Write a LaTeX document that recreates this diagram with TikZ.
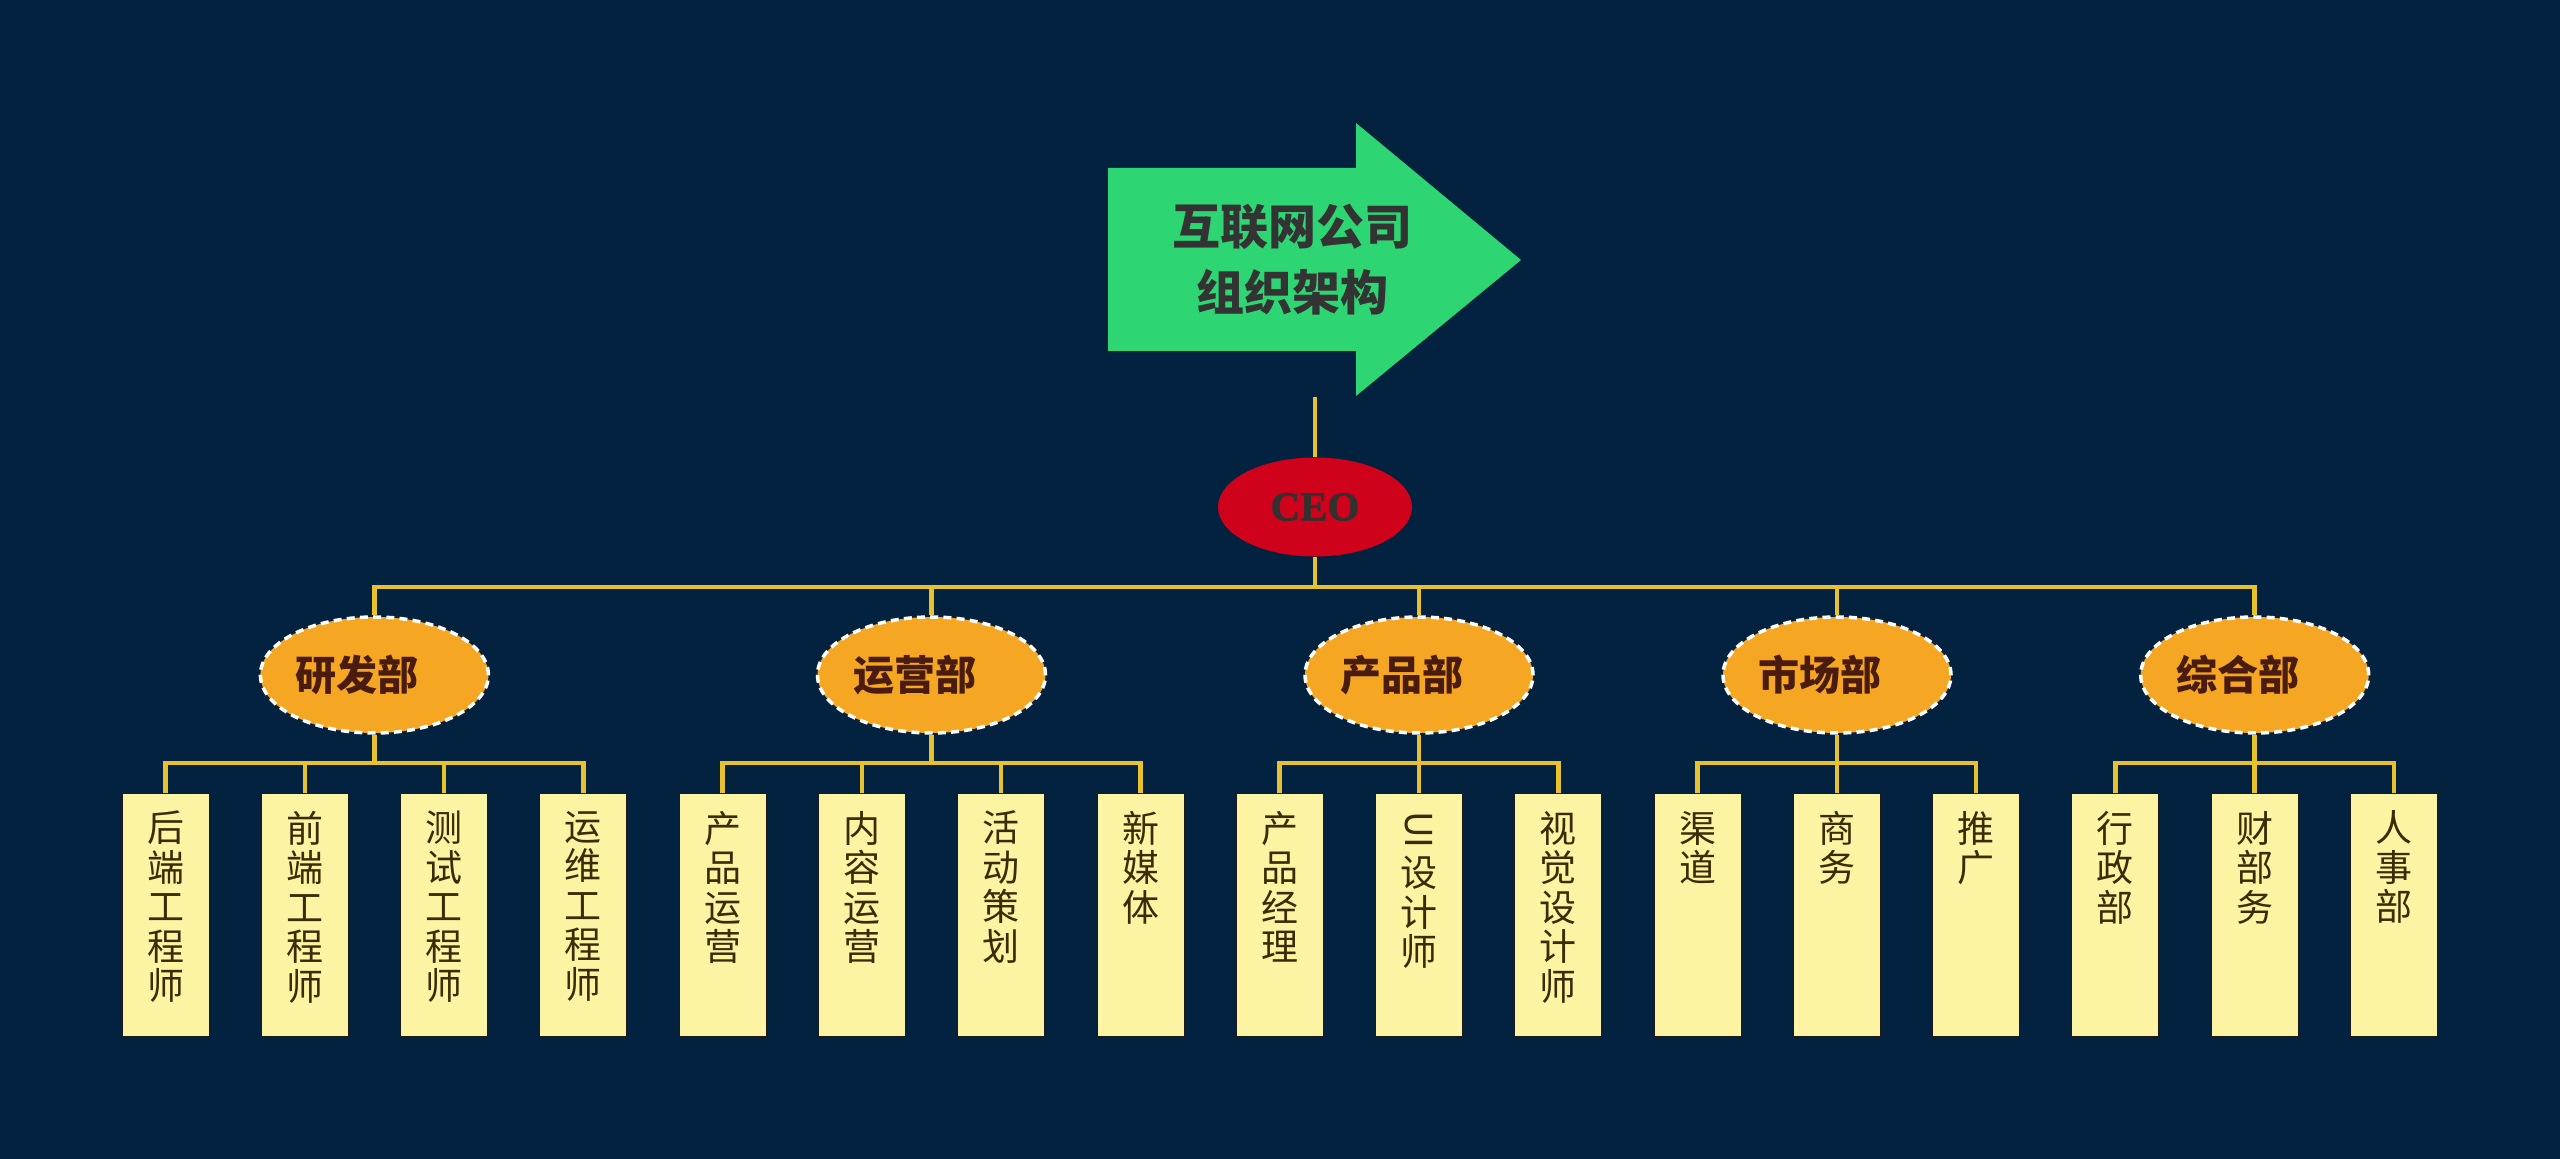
\documentclass[tikz,border=0pt]{standalone}
\usepackage{fontspec}
\usepackage{graphicx}
\newfontfamily\cjkfont{Noto Sans CJK SC}
\newfontfamily\ceofont[FakeBold=1.5]{Liberation Serif Bold}
\usetikzlibrary{shapes.geometric}
\definecolor{bgc}{HTML}{022240}
\definecolor{arrowg}{HTML}{2ED573}
\definecolor{titlet}{HTML}{333333}
\definecolor{ceor}{HTML}{D0021B}
\definecolor{ceot}{HTML}{333030}
\definecolor{liney}{HTML}{E8C22C}
\definecolor{depto}{HTML}{F5A623}
\definecolor{deptt}{HTML}{4A1C10}
\definecolor{leafy}{HTML}{FCF4A3}
\definecolor{leaft}{HTML}{3A2C05}
\definecolor{leafb}{HTML}{1A1A1A}
\newcommand\vtxt[1]{\parbox[c][104pt][t]{36pt}{\centering #1}}
\newcommand\dtxt[1]{#1\kern17pt\relax}
\tikzset{
  conn/.style={draw=liney, line width=2.25pt},
  titlenode/.style={align=center, text=titlet, inner sep=0pt,
    font=\cjkfont\bfseries\fontsize{24}{33}\selectfont},
  ceonode/.style={ellipse, fill=ceor, minimum width=97pt, minimum height=49.5pt,
    inner sep=0pt, text=ceot, font=\ceofont\fontsize{20.5}{24}\selectfont},
  dept/.style={ellipse, fill=depto, draw=white, line width=1.75pt,
    dash pattern=on 4pt off 2.6pt, minimum width=114pt, minimum height=58pt,
    inner sep=0pt, text=deptt, font=\cjkfont\bfseries\fontsize{20.5}{24}\selectfont},
  leaf/.style={rectangle, fill=leafy, draw=leafb, line width=0.5pt,
    minimum width=43.5pt, minimum height=121pt, inner sep=0pt, text=leaft,
    font=\cjkfont\fontsize{18.5}{19.75}\selectfont}
}
\begin{document}
\begin{tikzpicture}[x=0.5pt,y=-0.5pt]
\useasboundingbox (0,0) rectangle (2560,1159);
\fill[bgc] (0,0) rectangle (2560,1159);

% title arrow
\fill[arrowg] (1108,168) -- (1356,168) -- (1356,123) -- (1521,260)
  -- (1356,396) -- (1356,351) -- (1108,351) -- cycle;
\node[titlenode] (title) at (1292,260) {互联网公司\\组织架构};
\coordinate (arrowfoot) at (1315,397);

% CEO
\node[ceonode] (ceo) at (1315,507) {CEO};

% departments
\node[dept] (d1) at (374.4,675) {\dtxt{研发部}};
\node[dept] (d2) at (931.5,675) {\dtxt{运营部}};
\node[dept] (d3) at (1419,675) {\dtxt{产品部}};
\node[dept] (d4) at (1837,675) {\dtxt{市场部}};
\node[dept] (d5) at (2254.7,675) {\dtxt{综合部}};

% leaves
\node[leaf] (l1)  at (165.5,915)  {\vtxt{后\\端\\工\\程\\师}};
\node[leaf] (l2)  at (304.8,915)  {\vtxt{前\\端\\工\\程\\师}};
\node[leaf] (l3)  at (444.1,915)  {\vtxt{测\\试\\工\\程\\师}};
\node[leaf] (l4)  at (583.3,915)  {\vtxt{运\\维\\工\\程\\师}};
\node[leaf] (l5)  at (722.6,915)  {\vtxt{产\\品\\运\\营}};
\node[leaf] (l6)  at (861.9,915)  {\vtxt{内\\容\\运\\营}};
\node[leaf] (l7)  at (1001.2,915) {\vtxt{活\\动\\策\\划}};
\node[leaf] (l8)  at (1140.5,915) {\vtxt{新\\媒\\体}};
\node[leaf] (l9)  at (1279.7,915) {\vtxt{产\\品\\经\\理}};
\node[leaf] (l10) at (1419,915)   {\vtxt{\rotatebox{-90}{UI}\\[3pt]设\\计\\师}};
\node[leaf] (l11) at (1558.3,915) {\vtxt{视\\觉\\设\\计\\师}};
\node[leaf] (l12) at (1697.6,915) {\vtxt{渠\\道}};
\node[leaf] (l13) at (1836.9,915) {\vtxt{商\\务}};
\node[leaf] (l14) at (1976.1,915) {\vtxt{推\\广}};
\node[leaf] (l15) at (2115.4,915) {\vtxt{行\\政\\部}};
\node[leaf] (l16) at (2254.7,915) {\vtxt{财\\部\\务}};
\node[leaf] (l17) at (2394,915)   {\vtxt{人\\事\\部}};

% connectors
\coordinate (bus) at (1315,587);
\coordinate (sub) at (0,763);
\draw[conn] (arrowfoot) -- (ceo.north);
\draw[conn] (ceo.south) -- (bus);
\draw[conn] (d1.north) -- (d1.north |- bus) -- (d5.north |- bus) -- (d5.north);
\foreach \d in {d2,d3,d4} \draw[conn] (\d.north) -- (\d.north |- bus);

\foreach \d/\a/\b in {d1/l1/l4, d2/l5/l8, d3/l9/l11, d4/l12/l14, d5/l15/l17} {
  \draw[conn] (\d.south) -- (\d.south |- sub);
  \draw[conn] (\a.north) -- (\a.north |- sub) -- (\b.north |- sub) -- (\b.north);
}
\foreach \m in {l2,l3,l6,l7,l10,l13,l16} \draw[conn] (\m.north) -- (\m.north |- sub);
\end{tikzpicture}
\end{document}
